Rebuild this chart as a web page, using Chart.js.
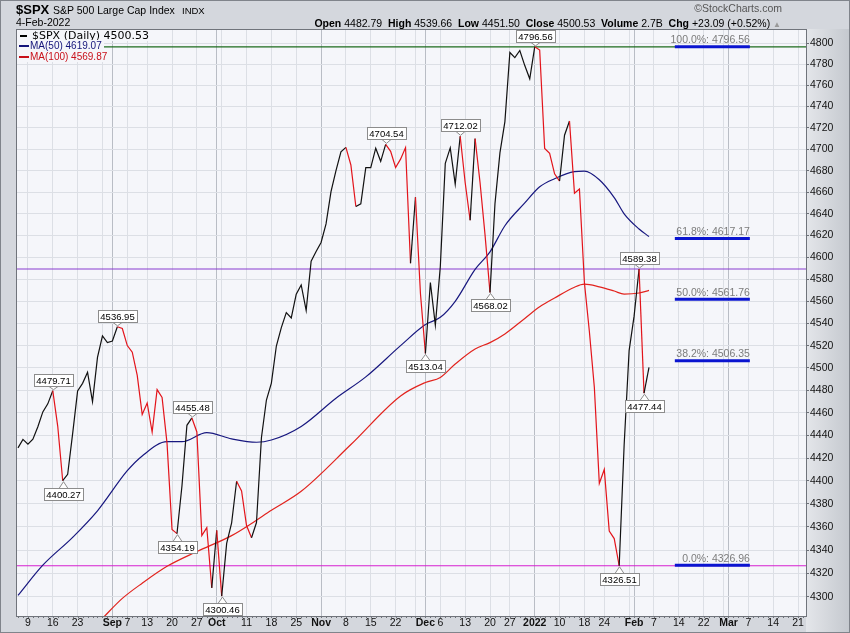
<!DOCTYPE html>
<html>
<head>
<meta charset="utf-8">
<title>$SPX S&amp;P 500 Large Cap Index</title>
<script src="https://cdn.jsdelivr.net/npm/chart.js@4.4.1/dist/chart.umd.min.js"></script>
<style>
  html, body { margin: 0; padding: 0; }
  body { width: 850px; height: 633px; overflow: hidden; background: #d4d7dd; }
  #frame { position: relative; width: 850px; height: 633px; }
  #spxChart { position: absolute; left: 0; top: 0; }
  .txt { position: absolute; white-space: nowrap; line-height: 1; color: #000;
         font-family: "Liberation Sans", Arial, sans-serif; }
  .row { position: absolute; left: 17px; height: 11px; display: flex; align-items: center;
         background: #f5f6fa; padding-right: 2px; white-space: nowrap;
         font-family: "Liberation Sans", Arial, sans-serif; font-size: 10px; }
  .row i { display: inline-block; height: 2px; margin-right: 2px; }
</style>
</head>
<body>
<div id="frame">
  <canvas id="spxChart" width="850" height="633"></canvas>

  <div class="txt" style="left:16px;top:2.5px;font-size:13px;font-weight:bold">$SPX</div>
  <div class="txt" style="left:53px;top:4.5px;font-size:10.5px">S&amp;P 500 Large Cap Index</div>
  <div class="txt" style="left:182px;top:5.5px;font-size:9.5px">INDX</div>
  <div class="txt" style="left:16px;top:17px;font-size:10.5px">4-Feb-2022</div>
  <div class="txt" style="right:68px;top:3px;font-size:10.5px;color:#555">&copy;StockCharts.com</div>
  <div class="txt" style="right:69px;top:18px;font-size:10.5px">
    <b>Open</b> 4482.79&nbsp; <b>High</b> 4539.66&nbsp; <b>Low</b> 4451.50&nbsp; <b>Close</b> 4500.53&nbsp;
    <b>Volume</b> 2.7B&nbsp; <b>Chg</b> +23.09 (+0.52%) <span style="color:#999;font-size:8px">&#9650;</span>
  </div>

  <div class="row" style="top:30px;font-family:'DejaVu Sans',sans-serif;font-size:11px">
    <i style="background:#000;width:7px;margin-left:3px;margin-right:5px"></i>$SPX (Daily) 4500.53</div>
  <div class="row" style="top:40px;color:#14147a"><i style="background:#14147a;width:10px;margin-left:2px;margin-right:1px"></i>MA(50) 4619.07</div>
  <div class="row" style="top:51px;color:#c8101a"><i style="background:#c8101a;width:10px;margin-left:2px;margin-right:1px"></i>MA(100) 4569.87</div>
</div>

<script>
// daily closes, first value = 5-Aug-2021, last = 4-Feb-2022 (trading days)
const closes = [
  4429.10, 4436.52, 4432.35, 4436.75, 4447.70, 4460.83, 4468.00, 4479.71, 4448.08, 4400.27,
  4405.80, 4441.67, 4479.53, 4486.23, 4496.19, 4470.00, 4509.37, 4528.79, 4522.68, 4524.09,
  4536.95, 4535.43, 4520.03, 4514.07, 4493.28, 4458.58, 4468.73, 4443.05, 4480.70, 4473.75,
  4432.99, 4357.73, 4354.19, 4395.64, 4448.98, 4455.48, 4443.11, 4352.63, 4359.46, 4307.54,
  4357.04, 4300.46, 4345.72, 4363.55, 4399.76, 4391.34, 4361.19, 4350.65, 4363.80, 4438.26,
  4471.37, 4486.46, 4519.63, 4536.19, 4549.78, 4544.90, 4566.48, 4574.79, 4551.68, 4596.42,
  4605.38, 4613.67, 4630.65, 4660.57, 4680.06, 4697.53, 4701.70, 4685.25, 4646.71, 4649.27,
  4682.85, 4682.80, 4700.90, 4688.67, 4704.54, 4697.96, 4682.94, 4690.70, 4701.46, 4594.62,
  4655.27, 4567.00, 4513.04, 4577.10, 4538.43, 4591.67, 4686.75, 4701.21, 4667.45, 4712.02,
  4668.97, 4634.09, 4709.85, 4668.67, 4620.64, 4568.02, 4649.23, 4696.56, 4725.79, 4791.19,
  4786.35, 4793.06, 4778.73, 4766.18, 4796.56, 4793.54, 4700.58, 4696.05, 4677.03, 4670.29,
  4713.07, 4726.35, 4659.03, 4662.85, 4577.11, 4532.76, 4482.73, 4397.94, 4410.13, 4356.45,
  4349.93, 4326.51, 4431.85, 4515.55, 4546.54, 4589.38, 4477.44, 4500.53
];

// moving averages (trading-day index, value)
const ma50Day = [0, 5, 11, 16, 22, 25, 30, 33, 38, 43, 48, 51, 57, 64, 70, 77, 82, 85, 88, 92,
  95, 98, 102, 105, 108, 112, 114, 117, 120, 122, 125, 127];
const ma50Val = [4301, 4327, 4351, 4374, 4409, 4422, 4434.5, 4434.5, 4442.5, 4437, 4434, 4436,
  4448, 4473, 4492, 4520, 4539, 4545.5, 4560, 4589, 4605, 4629, 4650, 4665, 4672.5, 4679,
  4679.5, 4671.5, 4655, 4640, 4626, 4619.07];
const ma100Day = [12, 17, 21, 25, 30, 36, 43, 47, 51, 57, 67, 77, 82, 85, 88, 92, 95, 98, 102,
  105, 108, 112, 114, 117, 120, 122, 125, 127];
const ma100Val = [4260, 4281.5, 4298.5, 4311.5, 4326, 4338.7, 4352.5, 4363, 4374.5, 4391, 4432,
  4475, 4487, 4491.5, 4503.5, 4517, 4522.7, 4530.5, 4544.5, 4555, 4563, 4572.8, 4575.5,
  4573.1, 4569.3, 4566.5, 4567.5, 4569.87];

// falling swings (drawn red), as [from day, to day]
const downSwings = [[7, 9], [20, 32], [35, 39], [40, 41], [44, 47], [66, 68], [74, 79], [80, 82],
  [89, 91], [92, 95], [104, 109], [111, 121], [125, 126]];

// labelled turning points
const pivotDay = [7, 9, 20, 32, 35, 41, 74, 82, 89, 95, 104, 121, 125, 126];
const pivotHigh = [true, false, true, false, true, false, true, false, true, false, true, false, true, false];

// horizontal lines and fibonacci retracement
const levelVals = [4796.56, 4589.38, 4326.51];
const levelColors = ['#1d6b1d', '#8a3ccf', '#d61fd0'];
const fibPct = ['100.0%', '61.8%', '50.0%', '38.2%', '0.0%'];
const fibVals = [4796.56, 4617.17, 4561.76, 4506.35, 4326.96];

// axes
const xTickDay = [2, 7, 12, 17, 19, 22, 26, 31, 36, 40, 41, 46, 51, 56, 61, 66, 71, 76, 80, 82,
  85, 90, 95, 99, 104, 109, 114, 118, 123, 124, 128, 133, 138, 142, 143, 147, 152, 157];
const xTickText = ['9', '16', '23', '', 'Sep', '7', '13', '20', '27', 'Oct', '', '11', '18', '25',
  'Nov', '8', '15', '22', '', 'Dec', '6', '13', '20', '27', '2022', '10', '18', '24', '', 'Feb',
  '7', '14', '22', '', 'Mar', '7', '14', '21'];
const monthDay = [19, 40, 61, 82, 104, 124, 143];
const yTicks = [4300, 4320, 4340, 4360, 4380, 4400, 4420, 4440, 4460, 4480, 4500, 4520, 4540,
  4560, 4580, 4600, 4620, 4640, 4660, 4680, 4700, 4720, 4740, 4760, 4780, 4800];

const X_MIN = -0.4, X_MAX = 158.6;
const FIB_FROM = 132.2, FIB_TO = 147.3;
const FONT = '"Liberation Sans", Arial, sans-serif';

function isDown(i) {
  return downSwings.some(s => i >= s[0] && i + 1 <= s[1]);
}

const framePlugin = {
    id: 'frame',
    beforeDraw(chart) {
        const {ctx, chartArea: a, width, height} = chart;
        ctx.save();
        ctx.fillStyle = '#d4d7dd';
        ctx.fillRect(0, 0, width, height);
        const g = ctx.createLinearGradient(a.right, 0, width, 0);
        g.addColorStop(0, '#e4e6ea');
        g.addColorStop(1, '#c4c8ce');
        ctx.fillStyle = g;
        ctx.fillRect(a.right, a.top, width - a.right, height - a.top);
        ctx.fillStyle = '#f5f6fa';
        ctx.fillRect(a.left, a.top, a.right - a.left, a.bottom - a.top);
        ctx.restore();
    },
    afterDatasetsDraw(chart) {
        const {ctx, scales: {x, y}} = chart;
        ctx.save();
        // fib labels
        ctx.font = '10.5px ' + FONT;
        ctx.fillStyle = '#7c7c7c';
        ctx.textAlign = 'right';
        ctx.textBaseline = 'alphabetic';
        fibVals.forEach((v, k) => {
            ctx.fillText(fibPct[k] + ': ' + v.toFixed(2), x.getPixelForValue(FIB_TO), y.getPixelForValue(v) - 3.5);
        });
        // price labels
        ctx.font = '9.5px ' + FONT;
        ctx.textAlign = 'center';
        ctx.textBaseline = 'middle';
        ctx.lineWidth = 1;
        pivotDay.forEach((d, k) => {
            const px = Math.round(x.getPixelForValue(d)), py = y.getPixelForValue(closes[d]);
            const txt = closes[d].toFixed(2);
            const w = Math.round(ctx.measureText(txt).width) + 5, h = 12;
            const top = pivotHigh[k] ? py - 5 - h : py + 7;
            const bx = Math.round(px - w / 2) + 0.5, by = Math.round(top) + 0.5;
            ctx.strokeStyle = '#8c8c8c';
            ctx.fillStyle = '#fff';
            ctx.beginPath();
            if (pivotHigh[k]) {
                ctx.moveTo(px - 4, by + h); ctx.lineTo(px + 0.5, py - 1); ctx.lineTo(px + 5, by + h);
            } else {
                ctx.moveTo(px - 4, by); ctx.lineTo(px + 0.5, py + 1); ctx.lineTo(px + 5, by);
            }
            ctx.fill();
            ctx.stroke();
            ctx.fillRect(bx, by, w, h);
            ctx.strokeRect(bx, by, w, h);
            ctx.fillStyle = '#000';
            ctx.fillText(txt, px + 0.5, by + h / 2 + 0.5);
        });
        ctx.restore();
    },
    afterDraw(chart) {
        const {ctx, chartArea: a, scales: {x}, width, height} = chart;
        ctx.save();
        // small day ticks along the bottom
        ctx.strokeStyle = '#6d7178';
        ctx.beginPath();
        for (let d = 0; d <= X_MAX; d++) {
            const px = Math.round(x.getPixelForValue(d)) + 0.5;
            ctx.moveTo(px, a.bottom);
            ctx.lineTo(px, a.bottom + 2);
        }
        ctx.stroke();
        ctx.strokeStyle = '#70747b';
        ctx.strokeRect(a.left + 0.5, a.top + 0.5, a.right - a.left, a.bottom - a.top);
        ctx.strokeStyle = '#80848b';
        ctx.strokeRect(0.5, 0.5, width - 1, height - 1);
        ctx.restore();
    }
};

const priceData = closes.map((c, i) => ({x: i, y: c}));
const ma50Data = ma50Day.map((d, k) => ({x: d, y: ma50Val[k]}));
const ma100Data = ma100Day.map((d, k) => ({x: d, y: ma100Val[k]}));

// first dataset ends up on top
const datasets = [
    {
        label: '$SPX (Daily)',
        data: priceData,
        borderColor: '#111',
        borderWidth: 1.2,
        pointRadius: 0,
        segment: {
            borderColor: c => isDown(c.p0DataIndex) ? '#e3141b' : '#111'
        }
    },
    {
        label: 'MA(50)',
        data: ma50Data,
        borderColor: '#17177f',
        borderWidth: 1.2,
        pointRadius: 0,
        cubicInterpolationMode: 'monotone'
    },
    {
        label: 'MA(100)',
        data: ma100Data,
        borderColor: '#e2231d',
        borderWidth: 1.2,
        pointRadius: 0,
        cubicInterpolationMode: 'monotone'
    }
];
fibVals.forEach(v => {
    datasets.push({
        label: 'fib ' + v,
        data: [{x: FIB_FROM, y: v}, {x: FIB_TO, y: v}],
        borderColor: '#0a14d0',
        borderWidth: 3,
        pointRadius: 0
    });
});
levelVals.forEach((v, k) => {
    datasets.push({
        label: 'level ' + v,
        data: [{x: X_MIN, y: v}, {x: X_MAX, y: v}],
        borderColor: levelColors[k],
        borderWidth: 1.2,
        pointRadius: 0
    });
});

const config = {
    type: 'line',
    data: { datasets: datasets },
    options: {
        responsive: false,
        animation: false,
        devicePixelRatio: 1,
        layout: { padding: { left: 16, top: 29, right: 0, bottom: 0 } },
        plugins: {
            legend: { display: false },
            tooltip: { enabled: false }
        },
        scales: {
            x: {
                type: 'linear',
                min: X_MIN,
                max: X_MAX,
                afterBuildTicks: s => { s.ticks = xTickDay.map(v => ({value: v})); },
                afterFit: s => { s.height = 17; },
                ticks: {
                    autoSkip: false,
                    maxRotation: 0,
                    padding: 1,
                    color: '#111',
                    callback: (v, i) => xTickText[i],
                    font: c => ({
                        family: FONT,
                        size: 10.5,
                        weight: (c.tick && monthDay.includes(c.tick.value)) ? 'bold' : 'normal'
                    })
                },
                grid: {
                    color: c => (c.tick && monthDay.includes(c.tick.value)) ? '#b9bdc5' : '#dcdfe5',
                    tickLength: 3,
                    drawTicks: false
                },
                border: { display: false }
            },
            y: {
                type: 'logarithmic',
                position: 'right',
                min: 4283.5,
                max: 4813.6,
                afterBuildTicks: s => { s.ticks = yTicks.map(v => ({value: v})); },
                afterFit: s => { s.width = 44; },
                ticks: {
                    padding: 1,
                    color: '#111',
                    font: { family: FONT, size: 10.5 },
                    callback: v => String(v)
                },
                grid: {
                    color: '#dcdfe5',
                    tickLength: 3,
                    tickColor: '#6d7178'
                },
                border: { display: false }
            }
        }
    },
    plugins: [framePlugin]
};

const spxChart = new Chart(document.getElementById('spxChart'), config);
</script>
</body>
</html>
